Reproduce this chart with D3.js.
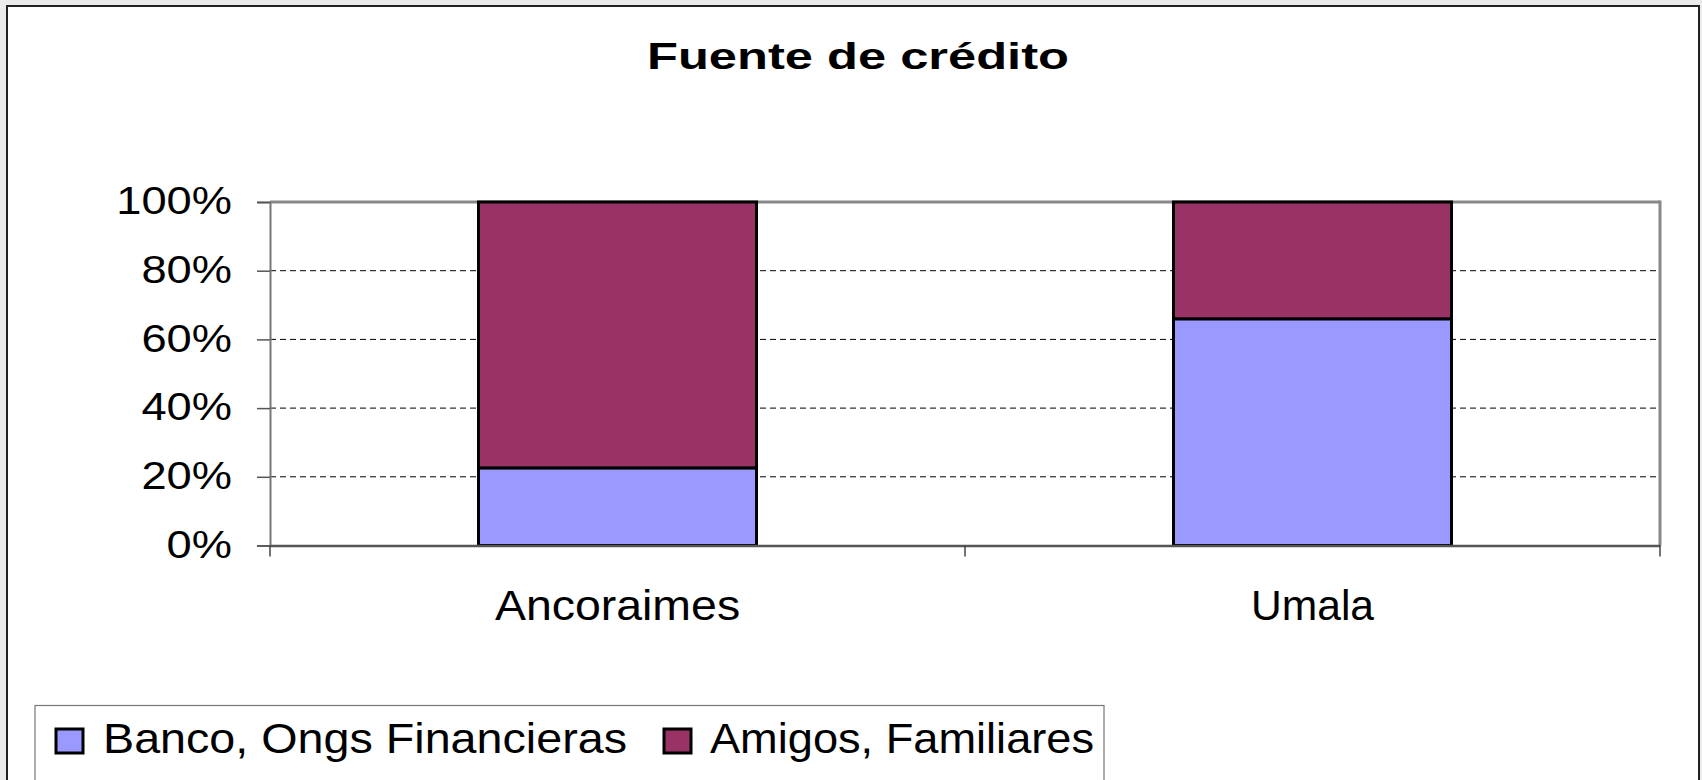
<!DOCTYPE html>
<html>
<head>
<meta charset="utf-8">
<script src="https://cdn.jsdelivr.net/npm/d3@7"></script>
<style>
  html, body { margin: 0; padding: 0; background: #ebebeb; }
  svg { display: block; }
  text { font-family: "Liberation Sans", Arial, sans-serif; fill: #000; }
</style>
</head>
<body>
<svg id="chart" width="1702" height="780"></svg>
<script>
const title = "Fuente de crédito";
const categories = ["Ancoraimes", "Umala"];
const seriesNames = ["Banco, Ongs Financieras", "Amigos, Familiares"];
const bancoValues = [0.226, 0.66];
const amigosValues = [0.774, 0.34];
const yTicks = [0, 0.2, 0.4, 0.6, 0.8, 1.0];
const colors = ["#9999FF", "#993366"];

(function () {
const svg = d3.select("#chart");

// chart frame
svg.append("rect").attr("x", 7).attr("y", 6).attr("width", 1692).attr("height", 790)
  .attr("fill", "#fff").attr("stroke", "#222").attr("stroke-width", 2);

function fitText(sel, width) {
  const n = sel.node();
  n.setAttribute("textLength", width);
  n.setAttribute("lengthAdjust", "spacingAndGlyphs");
  return sel;
}
function stretch(sel, k) {
  const w = sel.node().getComputedTextLength();
  return fitText(sel, w * k);
}

// title
fitText(svg.append("text").attr("x", 858).attr("y", 69).attr("text-anchor", "middle")
  .attr("font-size", 37).attr("font-weight", "bold").text(title), 422);

const pLeft = 270, pRight = 1660, pTop = 202, pBottom = 545.5;
const x = d3.scaleBand().domain(categories).range([pLeft, pRight]).padding(0);
const y = d3.scaleLinear().domain([0, 1]).range([pBottom, pTop]);

// gridlines
svg.append("g").selectAll("line").data(yTicks.filter(t => t > 0 && t < 1)).join("line")
  .attr("x1", pLeft).attr("x2", pRight)
  .attr("y1", d => y(d)).attr("y2", d => y(d))
  .attr("stroke", "#000").attr("stroke-width", 1).attr("stroke-dasharray", "6,4");

// plot border top/right
svg.append("line").attr("x1", pLeft).attr("x2", pRight).attr("y1", y(1)).attr("y2", y(1))
  .attr("stroke", "#888").attr("stroke-width", 3);
svg.append("line").attr("x1", pRight).attr("x2", pRight).attr("y1", y(1) - 1.5).attr("y2", y(0))
  .attr("stroke", "#888").attr("stroke-width", 3);

// bars
const barW = x.bandwidth() * 0.4;
const stacks = categories.map((c, i) => ({ c, b: bancoValues[i], a: amigosValues[i] }));
const barG = svg.append("g");
barG.selectAll("rect.banco").data(stacks).join("rect").attr("class", "banco")
  .attr("x", d => x(d.c) + (x.bandwidth() - barW) / 2)
  .attr("width", barW)
  .attr("y", d => y(d.b)).attr("height", d => y(0) - y(d.b))
  .attr("fill", colors[0]).attr("stroke", "#000").attr("stroke-width", 3);
barG.selectAll("rect.amigos").data(stacks).join("rect").attr("class", "amigos")
  .attr("x", d => x(d.c) + (x.bandwidth() - barW) / 2)
  .attr("width", barW)
  .attr("y", d => y(d.b + d.a)).attr("height", d => y(d.b) - y(d.b + d.a))
  .attr("fill", colors[1]).attr("stroke", "#000").attr("stroke-width", 3);

// y axis
const yAxis = svg.append("g").attr("transform", `translate(${pLeft},0)`)
  .call(d3.axisLeft(y).tickValues(yTicks).tickFormat(d3.format(".0%")).tickSize(13).tickPadding(25));
yAxis.select(".domain").attr("stroke", "#777").attr("stroke-width", 2);
yAxis.selectAll(".tick line").attr("stroke", "#555").attr("stroke-width", 1.5);
yAxis.selectAll(".tick text").attr("font-size", 39).attr("fill", "#000")
  .attr("font-family", "Liberation Sans, Arial, sans-serif").attr("dy", "0.3em")
  .each(function () { stretch(d3.select(this), 1.16); });

// x axis
const xAxis = svg.append("g").attr("transform", `translate(0,${pBottom})`)
  .call(d3.axisBottom(x).tickSize(0).tickPadding(0));
xAxis.select(".domain").attr("stroke", "#555").attr("stroke-width", 2.5);
xAxis.selectAll(".tick text").attr("font-size", 43).attr("fill", "#000")
  .attr("font-family", "Liberation Sans, Arial, sans-serif")
  .attr("dy", null).attr("y", 74.5)
  .each(function (d) { stretch(d3.select(this), d === "Ancoraimes" ? 1.08 : 0.99); });
// category boundary ticks
const boundaries = categories.map(c => x(c)).concat([x(categories[categories.length - 1]) + x.bandwidth()]);
svg.append("g").selectAll("line").data(boundaries).join("line")
  .attr("x1", d => d).attr("x2", d => d).attr("y1", pBottom).attr("y2", pBottom + 11)
  .attr("stroke", "#444").attr("stroke-width", 1.5);

// legend
const lg = svg.append("g");
lg.append("rect").attr("x", 35).attr("y", 705.5).attr("width", 1069).attr("height", 100)
  .attr("fill", "#fff").attr("stroke", "#777").attr("stroke-width", 1.2);
const legendItems = [
  { name: seriesNames[0], color: colors[0], sx: 56, tx: 103, w: 524 },
  { name: seriesNames[1], color: colors[1], sx: 664, tx: 710, w: 384 }
];
legendItems.forEach(it => {
  lg.append("rect").attr("x", it.sx).attr("y", 729).attr("width", 27).attr("height", 24)
    .attr("fill", it.color).attr("stroke", "#000").attr("stroke-width", 3);
  fitText(lg.append("text").attr("x", it.tx).attr("y", 752.5).attr("font-size", 43).text(it.name), it.w);
});
})();
</script>
</body>
</html>
